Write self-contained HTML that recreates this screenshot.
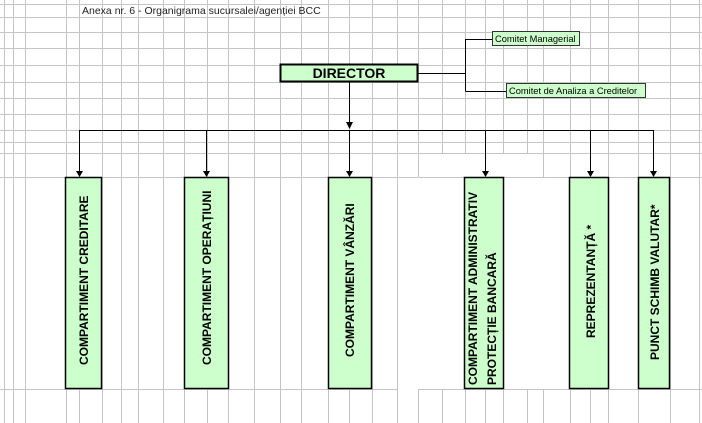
<!DOCTYPE html>
<html><head><meta charset="utf-8"><style>
html,body{margin:0;padding:0;background:#fff;}
svg{display:block;}
</style></head><body>
<svg width="702" height="423" xmlns="http://www.w3.org/2000/svg" font-family="Liberation Sans, Arial, sans-serif">
<g stroke="#c4c4c4" stroke-width="1">
  <line x1="4.5" y1="0" x2="4.5" y2="423"/><line x1="13.5" y1="0" x2="13.5" y2="423"/><line x1="25.5" y1="0" x2="25.5" y2="423"/>
  <line x1="66.5" y1="0" x2="66.5" y2="423"/><line x1="79.5" y1="0" x2="79.5" y2="423"/><line x1="102.5" y1="0" x2="102.5" y2="423"/>
  <line x1="121.5" y1="0" x2="121.5" y2="423"/><line x1="138.5" y1="0" x2="138.5" y2="423"/><line x1="163.5" y1="0" x2="163.5" y2="423"/>
  <line x1="184.5" y1="0" x2="184.5" y2="423"/><line x1="207.5" y1="0" x2="207.5" y2="423"/><line x1="228.5" y1="0" x2="228.5" y2="423"/>
  <line x1="254.5" y1="0" x2="254.5" y2="423"/><line x1="280.5" y1="0" x2="280.5" y2="423"/><line x1="301.5" y1="0" x2="301.5" y2="423"/>
  <line x1="328.5" y1="0" x2="328.5" y2="423"/><line x1="349.5" y1="0" x2="349.5" y2="423"/><line x1="372.5" y1="0" x2="372.5" y2="423"/>
  <line x1="397.5" y1="0" x2="397.5" y2="423"/><line x1="570.5" y1="0" x2="570.5" y2="423"/><line x1="590.5" y1="0" x2="590.5" y2="423"/>
  <line x1="608.5" y1="0" x2="608.5" y2="423"/><line x1="638.5" y1="0" x2="638.5" y2="423"/><line x1="670.5" y1="0" x2="670.5" y2="423"/>
  <line x1="699.5" y1="0" x2="699.5" y2="423"/>
  <path d="M418.5 0V177M442.5 0V153M465.5 0V153M485.5 0V153M503.5 0V153M527.5 0V153M543.5 0V177M418.5 177.5H543.5" fill="none"/>
  <path d="M418.5 389V423M442.5 389V423M465.5 389V423M485.5 389V423M503.5 389V423M527.5 389V423M543.5 389V423" fill="none"/>
  <path d="M0 4.5H702M0 17.5H702M0 32.5H702M0 48.5H702M0 65.5H702M0 82.5H702M0 98.5H702M0 114.5H702M0 130.5H702M0 142.5H702M0 153.5H702M0 177.5H418M543 177.5H702M0 389.5H397M418 389.5H702" fill="none"/>
</g>
<text x="82" y="14" font-size="10.5" fill="#222">Anexa nr. 6 - Organigrama sucursalei/agenției BCC</text>
<rect x="280.5" y="64.5" width="137" height="17" fill="#ccffcc" stroke="#000" stroke-width="2"/>
<text x="349" y="78" font-size="14" font-weight="bold" text-anchor="middle">DIRECTOR</text>
<g stroke="#000" stroke-width="1" fill="none">
  <path d="M418 73.5H465.5M465.5 39V91.5M465.5 39.5H492M465.5 91.5H506"/>
  <path d="M349.5 82V126M79.5 130.5H653.5M79.5 130V172M206.5 130V172M349.5 130V172M485.5 130V172M590.5 130V172M653.5 130V172"/>
</g>
<g fill="#000">
  <path d="M346 122L353 122L349.5 129Z"/>
  <path d="M76 171L83 171L79.5 177Z"/><path d="M203 171L210 171L206.5 177Z"/><path d="M346 171L353 171L349.5 177Z"/>
  <path d="M482 171L489 171L485.5 177Z"/><path d="M587 171L594 171L590.5 177Z"/><path d="M650 171L657 171L653.5 177Z"/>
</g>
<rect x="492.5" y="31.5" width="87" height="14" fill="#ccffcc" stroke="#333" stroke-width="1"/>
<text x="495" y="42" font-size="9.3">Comitet Managerial</text>
<rect x="506.5" y="83.5" width="139" height="14" fill="#ccffcc" stroke="#333" stroke-width="1"/>
<text x="509" y="94" font-size="9.3">Comitet de Analiza a Creditelor</text>
<g fill="#ccffcc" stroke="#000" stroke-width="1.5">
  <rect x="65.5" y="177.5" width="36" height="211"/>
  <rect x="184.5" y="177.5" width="44" height="211"/>
  <rect x="328.5" y="177.5" width="43" height="211"/>
  <rect x="464.5" y="177.5" width="39" height="211"/>
  <rect x="569.5" y="177.5" width="39" height="211"/>
  <rect x="638.5" y="177.5" width="31" height="211"/>
</g>
<g font-size="12" font-weight="bold" fill="#000">
  <text transform="translate(88,365) rotate(-90)">COMPARTIMENT CREDITARE</text>
  <text transform="translate(211,365) rotate(-90)">COMPARTIMENT OPERAȚIUNI</text>
  <text transform="translate(354,357) rotate(-90)">COMPARTIMENT VÂNZĂRI</text>
  <text transform="translate(477,385) rotate(-90)">COMPARTIMENT ADMINISTRATIV</text>
  <text transform="translate(496,385) rotate(-90)">PROTECȚIE BANCARĂ</text>
  <text transform="translate(595,338) rotate(-90)">REPREZENTANȚĂ *</text>
  <text transform="translate(659,360) rotate(-90)">PUNCT SCHIMB VALUTAR*</text>
</g>
</svg>
</body></html>
